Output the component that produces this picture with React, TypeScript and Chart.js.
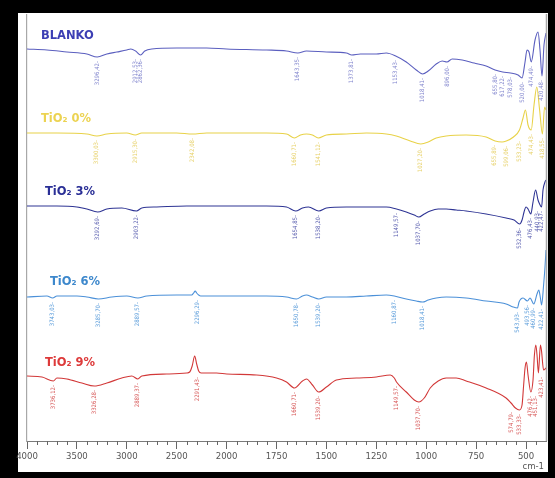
import React, { useEffect, useRef } from "react";
import { Chart, registerables } from "chart.js";

Chart.register(...registerables);

// ---------- axis ----------
const xTickLabels = [4000, 3500, 3000, 2500, 2000, 1750, 1500, 1250, 1000, 750, 500];
const xMinorTicks = [
  3900, 3800, 3700, 3600, 3400, 3300, 3200, 3100, 2900, 2800, 2700, 2600, 2400, 2300, 2200, 2100,
  1950, 1900, 1850, 1800, 1700, 1650, 1600, 1550, 1450, 1400, 1350, 1300, 1200, 1150, 1100, 1050,
  950, 900, 850, 800, 700, 650, 600, 550, 450,
];
const xUnit = "cm-1";
const X_END = 400;

// ---------- BLANKO ----------
const blankoWn = [4000, 3800, 3600, 3400, 3296, 3200, 3100, 3000, 2960, 2912, 2862, 2820, 2750, 2500, 2200, 2000, 1800, 1700, 1643, 1600, 1500, 1400, 1373, 1330, 1250, 1200, 1153, 1100, 1050, 1018, 990, 950, 920, 896, 870, 820, 760, 700, 655, 617, 578, 540, 520, 505, 495, 485, 474, 455, 440, 430, 420, 410, 400];
const blankoT = [-1, -2, -4, -6, -9, -6, -4, -2, -1, -3, -7, -3, -1, 0, 0, -1, -2, -3, -5, -3, -4, -5, -7, -6, -6, -5, -8, -14, -22, -26, -23, -16, -13, -14, -11, -12, -15, -18, -22, -24, -25, -27, -30, -14, -2, -4, -14, 8, 16, -2, -28, 3, 15];
const blankoPeaks = ["3296,42", "2912,53", "2862,36", "1643,35", "1373,81", "1153,43", "1018,41", "896,00", "655,80", "617,22", "578,03", "520,00", "474,49", "420,48"];

// ---------- TiO2 0% ----------
const tio0Wn = [4000, 3700, 3400, 3300, 3200, 3000, 2915, 2850, 2500, 2342, 2200, 2000, 1800, 1700, 1660, 1630, 1600, 1570, 1541, 1500, 1400, 1300, 1200, 1150, 1080, 1027, 990, 950, 900, 800, 700, 655, 620, 599, 563, 533, 515, 503, 490, 474, 460, 446, 432, 418, 407, 400];
const tio0T = [0, 0, -1, -3, -1, 0, -2, 0, 0, -1, 0, 0, 0, -1, -5, -2, -1, -2, -5, -2, -1, 0, -1, -3, -8, -11, -9, -5, -3, -2, -4, -8, -9, -8, -4, 3, 15, 23, 8, 3, 28, 46, 23, -1, 26, 23];
const tio0Peaks = ["3300,03", "2915,30", "2342,08", "1660,71", "1541,12", "1027,20", "655,89", "599,06", "533,23", "474,43", "418,55"];

// ---------- TiO2 3% ----------
const tio3Wn = [4000, 3700, 3500, 3400, 3292, 3200, 3050, 2903, 2850, 2700, 2400, 2000, 1800, 1700, 1654, 1620, 1590, 1538, 1500, 1400, 1300, 1200, 1149, 1100, 1060, 1037, 1010, 980, 940, 900, 850, 800, 700, 600, 560, 532, 520, 510, 500, 490, 476, 465, 452, 440, 432, 422, 415, 405, 400];
const tio3T = [0, 0, -1, -3, -6, -3, -2, -5, -2, -1, 0, 0, 0, -1, -5, -2, -1, -5, -2, -1, -1, -1, -3, -6, -9, -11, -8, -5, -3, -3, -4, -5, -8, -12, -14, -18, -14, -6, -1, -3, -8, 4, 16, 6, 2, -1, 16, 24, 26];
const tio3Peaks = ["3292,69", "2903,22", "1654,85", "1538,20", "1149,57", "1037,70", "532,36", "476,43", "440,93", "422,47"];

// ---------- TiO2 6% ----------
const tio6Wn = [4000, 3800, 3743, 3700, 3500, 3400, 3285, 3150, 3000, 2889, 2800, 2500, 2400, 2350, 2330, 2315, 2300, 2280, 2260, 2000, 1800, 1700, 1650, 1620, 1600, 1570, 1539, 1500, 1400, 1300, 1200, 1160, 1100, 1050, 1018, 990, 950, 900, 800, 700, 600, 565, 543, 535, 515, 493, 480, 461, 445, 436, 428, 422, 412, 405, 400];
const tio6T = [-1, 0, -2, 0, 0, -1, -3, -1, 0, -2, 0, 1, 1, 1, 3, 5, 3, 1, 0, 0, 0, -1, -3, 0, 1, -1, -3, -1, -1, 0, 1, 0, -3, -5, -6, -4, -2, -1, -2, -5, -8, -11, -12, -6, -2, -5, -2, -8, 2, 6, -2, -9, 11, 29, 46];
const tio6Peaks = ["3743,03", "3285,70", "2889,57", "2296,29", "1650,78", "1539,20", "1160,87", "1018,41", "543,93", "493,56", "460,99", "422,41"];

// ---------- TiO2 9% ----------
const tio9Wn = [4000, 3850, 3736, 3700, 3600, 3450, 3326, 3200, 3050, 2950, 2889, 2850, 2600, 2400, 2370, 2345, 2320, 2300, 2280, 2255, 2100, 2000, 1850, 1750, 1700, 1660, 1620, 1600, 1570, 1539, 1500, 1450, 1350, 1250, 1180, 1160, 1149, 1100, 1060, 1037, 1010, 980, 940, 900, 850, 800, 700, 600, 575, 553, 533, 520, 512, 505, 498, 490, 476, 465, 458, 451, 445, 438, 428, 423, 412, 400];
const tio9T = [0, -1, -5, -2, -3, -7, -10, -7, -2, 0, -3, 0, 2, 3, 4, 10, 20, 12, 5, 3, 3, 2, 1, -2, -6, -12, -5, -3, -9, -16, -11, -4, -2, -1, 1, -2, -6, -16, -24, -26, -22, -12, -5, -2, -2, -5, -12, -22, -27, -32, -34, -29, -9, 8, 14, 1, -16, -4, 21, 31, 21, 3, 31, 26, 6, 8];
const tio9Peaks = ["3736,12", "3326,28", "2889,37", "2291,43", "1660,71", "1539,20", "1149,57", "1037,70", "574,79", "533,33", "476,42", "451,13", "423,41"];

// ---------- series definitions (styles / stacking) ----------
const SERIES = [
  { name: "BLANKO", wn: blankoWn, t: blankoT, peaks: blankoPeaks, offset: 393, nameX: 41, nameDy: 12, line: "#5b5fbf", text: "#3c3fb4", peak: "#6a6fc4" },
  { name: "TiO₂ 0%", wn: tio0Wn, t: tio0T, peaks: tio0Peaks, offset: 308, nameX: 41, nameDy: 14, line: "#e8d248", text: "#ecd352", peak: "#e3c94f" },
  { name: "TiO₂ 3%", wn: tio3Wn, t: tio3T, peaks: tio3Peaks, offset: 235, nameX: 45, nameDy: 14, line: "#2e3494", text: "#2a2f96", peak: "#3a40a0" },
  { name: "TiO₂ 6%", wn: tio6Wn, t: tio6T, peaks: tio6Peaks, offset: 145, nameX: 50, nameDy: 14, line: "#4b90d8", text: "#3d88cc", peak: "#3b8ad4" },
  { name: "TiO₂ 9%", wn: tio9Wn, t: tio9T, peaks: tio9Peaks, offset: 65, nameX: 45, nameDy: 13, line: "#d23838", text: "#dd3a3a", peak: "#cf3535" },
];

// FTIR axis: scale changes at 2000 cm-1 (half the compression above 2000)
const tx = (w: number) => (w >= 2000 ? 4000 - w : 2000 + (2000 - w) * 2);
const inv = (x: number) => (x <= 2000 ? 4000 - x : 2000 - (x - 2000) / 2);

const NARROW = "'Liberation Sans Narrow', 'DejaVu Sans Condensed', 'Liberation Sans', sans-serif";

function interp(wn: number[], t: number[], w: number) {
  const x = tx(w);
  for (let i = 0; i < wn.length - 1; i++) {
    const a = tx(wn[i]);
    const b = tx(wn[i + 1]);
    if (x >= a && x <= b) {
      const f = b === a ? 0 : (x - a) / (b - a);
      return t[i] + (t[i + 1] - t[i]) * f;
    }
  }
  return t[t.length - 1];
}

const decorPlugin = {
  id: "decor",
  beforeDraw(chart: any) {
    const { ctx, width, height } = chart;
    ctx.save();
    ctx.fillStyle = "#000";
    ctx.fillRect(0, 0, width, height);
    ctx.fillStyle = "#fff";
    ctx.fillRect(18, 13, 530, 459);
    ctx.restore();
  },
  afterDraw(chart: any) {
    const { ctx, chartArea: ca } = chart;
    const xs = chart.scales.x;
    const ys = chart.scales.y;
    ctx.save();
    // right frame line
    ctx.strokeStyle = "#a8a8a8";
    ctx.lineWidth = 1.5;
    ctx.beginPath();
    ctx.moveTo(ca.right + 0.5, ca.top - 1);
    ctx.lineTo(ca.right + 0.5, ca.bottom);
    ctx.stroke();
    // minor ticks
    ctx.strokeStyle = "#666";
    ctx.lineWidth = 1;
    ctx.beginPath();
    xMinorTicks.forEach((w) => {
      const p = Math.round(xs.getPixelForValue(tx(w))) + 0.5;
      ctx.moveTo(p, ca.bottom);
      ctx.lineTo(p, ca.bottom + 4);
    });
    ctx.stroke();
    // unit
    ctx.fillStyle = "#555";
    ctx.font = `9.5px ${NARROW}`;
    ctx.textAlign = "right";
    ctx.textBaseline = "middle";
    ctx.fillText(xUnit, ca.right - 2, 467);
    // series names
    ctx.textAlign = "left";
    ctx.font = "bold 11.5px 'DejaVu Sans', Verdana, sans-serif";
    SERIES.forEach((s) => {
      ctx.fillStyle = s.text;
      ctx.fillText(s.name, s.nameX, ys.getPixelForValue(s.offset + s.nameDy));
    });
    // peak labels
    ctx.font = `6px ${NARROW}`;
    ctx.textBaseline = "middle";
    chart.data.datasets.forEach((ds: any, k: number) => {
      const s = SERIES[k];
      ctx.fillStyle = s.peak;
      ctx.globalAlpha = 0.85;
      s.peaks.forEach((lab) => {
        const w = parseFloat(lab.replace(",", "."));
        const px = xs.getPixelForValue(tx(w));
        let py = ys.getPixelForValue(s.offset + interp(s.wn, s.t, w));
        ds.data.forEach((pt: any) => {
          const p = xs.getPixelForValue(pt.x);
          if (Math.abs(p - px) <= 6) py = Math.max(py, ys.getPixelForValue(pt.y));
        });
        ctx.save();
        ctx.translate(px, py + 4);
        ctx.rotate(-Math.PI / 2);
        ctx.textAlign = "right";
        ctx.fillText(lab + "-", 0, 0);
        ctx.restore();
      });
    });
    ctx.restore();
  },
};

export default function App() {
  const ref = useRef<HTMLCanvasElement>(null);
  useEffect(() => {
    if (!ref.current) return;
    const chart = new Chart(ref.current, {
      type: "line",
      data: {
        datasets: SERIES.map((s) => ({
          label: s.name,
          data: s.wn.map((w, i) => ({ x: tx(w), y: s.offset + s.t[i] })),
          borderColor: s.line,
          borderWidth: 1.1,
          pointRadius: 0,
          fill: false,
          cubicInterpolationMode: "monotone" as const,
        })),
      },
      options: {
        responsive: false,
        animation: false,
        events: [],
        layout: { padding: { left: 27, right: 9, top: 15, bottom: 0 } },
        plugins: { legend: { display: false }, tooltip: { enabled: false }, title: { display: false } },
        scales: {
          x: {
            type: "linear",
            min: 0,
            max: tx(X_END),
            afterBuildTicks: (scale: any) => {
              scale.ticks = xTickLabels.map((w) => ({ value: tx(w) }));
            },
            afterFit: (scale: any) => {
              scale.height = 37;
            },
            ticks: {
              autoSkip: false,
              maxRotation: 0,
              padding: 2,
              color: "#555",
              font: { family: NARROW, size: 9.5 },
              callback: (v: any) => String(inv(Number(v))),
            },
            grid: { drawOnChartArea: false, tickLength: 8, color: "#666", lineWidth: 1 },
            border: { color: "#7a7a7a", width: 1 },
          },
          y: {
            type: "linear",
            min: 0,
            max: 426,
            ticks: { display: false },
            grid: { display: false },
            border: { display: true, color: "#a8a8a8", width: 1.2 },
            afterFit: (scale: any) => {
              scale.width = 0;
            },
          },
        },
      },
      plugins: [decorPlugin],
    });
    return () => chart.destroy();
  }, []);
  return (
    <div style={{ position: "absolute", left: 0, top: 0, width: 555, height: 478 }}>
      <canvas ref={ref} width={555} height={478} style={{ display: "block" }} />
    </div>
  );
}
